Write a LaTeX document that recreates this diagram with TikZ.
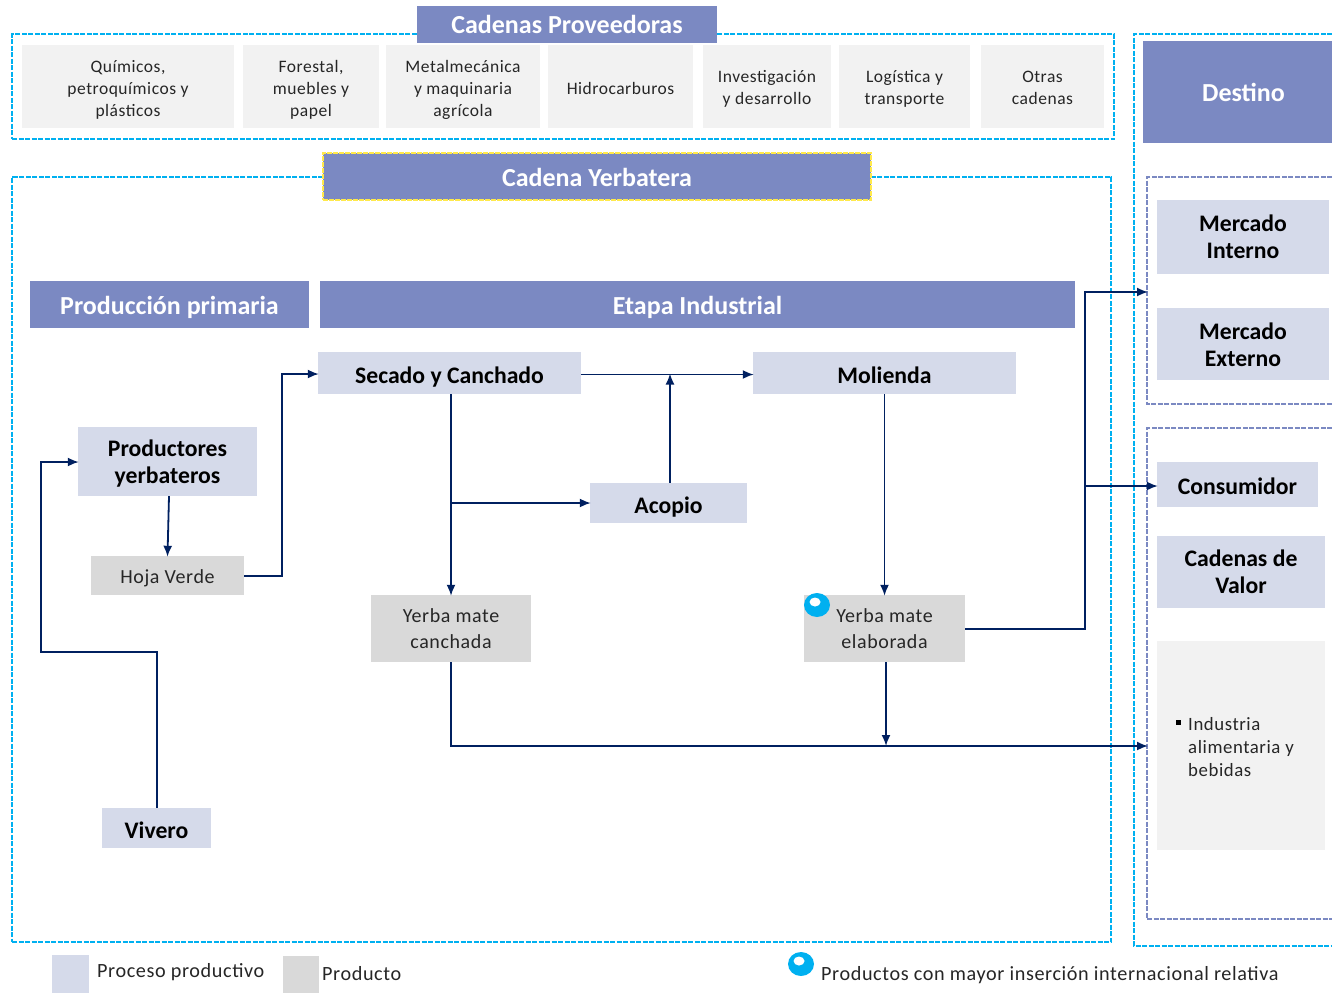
\documentclass[tikz,border=0pt]{standalone}
\usepackage{fontspec}
\setmainfont{Carlito}
\newfontfamily\wideface[LetterSpace=3]{Carlito}
\usetikzlibrary{arrows.meta,shapes.geometric}
\definecolor{headblue}{HTML}{7B89C2}
\definecolor{procblue}{HTML}{D5DAEA}
\definecolor{prodgrey}{HTML}{D9D9D9}
\definecolor{softgrey}{HTML}{F2F2F2}
\definecolor{framecyan}{HTML}{00B0F0}
\definecolor{framepurple}{HTML}{7B89C2}
\definecolor{framegold}{HTML}{FFE94A}
\definecolor{linknavy}{HTML}{002060}
\definecolor{inktext}{HTML}{262626}
\tikzset{
  head node/.style={rectangle,fill=headblue,text=white,inner sep=0pt,text height=19pt,text depth=0pt,font=\fontsize{26}{29}\selectfont\bfseries,align=center},
  proc node/.style={rectangle,fill=procblue,text=black,inner sep=0pt,text height=20pt,text depth=0pt,font=\fontsize{23.7}{27}\selectfont\bfseries,align=center},
  prod node/.style={rectangle,fill=prodgrey,text=inktext,inner sep=0pt,text height=16pt,text depth=0pt,font=\wideface\fontsize{20}{26}\selectfont,align=center},
  chain node/.style={rectangle,fill=softgrey,text=inktext,inner sep=0pt,text height=15pt,text depth=0pt,font=\wideface\fontsize{17.5}{22}\selectfont,align=center},
  note node/.style={anchor=west,text=inktext,inner sep=0pt,font=\wideface\fontsize{20.2}{23}\selectfont},
  cyan frame/.style={draw=framecyan,dashed,dash pattern=on 5pt off 1.5pt,line width=1.3pt},
  purple frame/.style={draw=framepurple,dashed,dash pattern=on 5pt off 1.5pt,line width=1.2pt},
  link/.style={draw=linknavy,line width=1.8pt,shorten >=-1pt,-{Latex[length=11pt,width=9pt]}},
  thick link/.style={draw=linknavy,line width=2.6pt},
  bubble/.style={ellipse,fill=framecyan,inner sep=0pt,minimum width=26,minimum height=24},
  glint/.style={ellipse,fill=white,inner sep=0pt,minimum width=11,minimum height=9}
}
\begin{document}
\begin{tikzpicture}[x=1pt,y=-1pt]
\useasboundingbox (0,0) rectangle (1332,993);
% frames
\node[cyan frame,minimum width=1102,minimum height=105,inner sep=0pt] (provframe) at (563,86.5) {};
\node[cyan frame,minimum width=1099,minimum height=765,inner sep=0pt] (yerbaframe) at (561.5,559.5) {};
\draw[cyan frame] (1332,34) -- (1134,34) -- (1134,946) -- (1332,946);
\draw[purple frame] (1332,177) -- (1147,177) -- (1147,404) -- (1332,404);
\draw[purple frame] (1332,428) -- (1147,428) -- (1147,919) -- (1332,919);
% titles
\node[head node,text height=17pt,minimum width=300,minimum height=37] (provtitle) at (567,24.5) {Cadenas Proveedoras};
\node[head node,minimum width=548,minimum height=47,draw=framegold,dash pattern=on 5pt off 1pt,line width=1.6pt] (yerbatitle) at (597,176.5) {Cadena Yerbatera};
\node[head node,minimum width=201,minimum height=102] (destino) at (1243.5,92) {Destino};
\node[head node,minimum width=279,minimum height=47] (primaria) at (169.5,304.5) {Producción primaria};
\node[head node,minimum width=755,minimum height=47] (industrial) at (697.5,304.5) {Etapa Industrial};
% cadenas proveedoras
\node[chain node,text height=60pt,minimum width=212,minimum height=83] (quimicos) at (128,86.5) {Químicos,\\petroquímicos y\\plásticos};
\node[chain node,text height=60pt,minimum width=136,minimum height=83] (forestal) at (311,86.5) {Forestal,\\muebles y\\papel};
\node[chain node,text height=60pt,minimum width=154,minimum height=83] (metal) at (463,86.5) {Metalmecánica\\y maquinaria\\agrícola};
\node[chain node,minimum width=145,minimum height=83] (hidro) at (620.5,86.5) {Hidrocarburos};
\node[chain node,text height=35pt,minimum width=128,minimum height=83] (investig) at (767,86.5) {Investigación\\y desarrollo};
\node[chain node,text height=35pt,minimum width=131,minimum height=83] (logistica) at (904.5,86.5) {Logística y\\transporte};
\node[chain node,text height=35pt,minimum width=123,minimum height=83] (otras) at (1042.5,86.5) {Otras\\cadenas};
% procesos
\node[proc node,text height=43pt,minimum width=179,minimum height=69] (productores) at (167.5,461.5) {Productores\\yerbateros};
\node[proc node,minimum width=263,minimum height=42] (secado) at (449.5,373) {Secado y Canchado};
\node[proc node,minimum width=263,minimum height=42] (molienda) at (884.5,373) {Molienda};
\node[proc node,minimum width=157,minimum height=40] (acopio) at (668.5,503) {Acopio};
\node[proc node,minimum width=109,minimum height=40] (vivero) at (156.5,828) {Vivero};
% productos
\node[prod node,minimum width=153,minimum height=39] (hoja) at (167.5,575.5) {Hoja Verde};
\node[prod node,text height=39pt,minimum width=160,minimum height=67] (canchada) at (451,628.5) {Yerba mate\\canchada};
\node[prod node,text height=39pt,minimum width=161,minimum height=67] (elaborada) at (884.5,628.5) {Yerba mate\\elaborada};
\node[bubble] (bubbleA) at (817,605) {};
\node[glint] (glintA) at (815,602) {};
% destino
\node[proc node,text height=43pt,minimum width=172,minimum height=74] (interno) at (1243,237) {Mercado\\Interno};
\node[proc node,text height=44pt,minimum width=172,minimum height=72] (externo) at (1243,344) {Mercado\\Externo};
\node[proc node,minimum width=161,minimum height=45] (consumidor) at (1237.5,484.5) {Consumidor};
\node[proc node,text height=42pt,minimum width=168,minimum height=72] (valor) at (1241,572) {Cadenas de\\Valor};
\node[chain node,minimum width=168,minimum height=209] (industria) at (1241,745.5) {};
\node[fill=black,inner sep=0pt,minimum size=5] (bullet) at (1178,722.5) {};
\node[note node,align=left,anchor=north west,font=\wideface\fontsize{18.8}{23}\selectfont] (industriatxt) at (1188,717) {Industria\\alimentaria y\\bebidas};
% leyenda
\node[rectangle,fill=procblue,minimum width=37,minimum height=38,inner sep=0pt] (legproc) at (70.5,974) {};
\node[rectangle,fill=prodgrey,minimum width=36,minimum height=37,inner sep=0pt] (legprod) at (301,974.5) {};
\node[note node] (txtproc) at (97,972) {Proceso productivo};
\node[note node] (txtprod) at (322,974) {Producto};
\node[bubble] (bubbleB) at (801,964) {};
\node[glint] (glintB) at (799,961) {};
\node[note node] (txtbubble) at (821,975) {Productos con mayor inserción internacional relativa};
% junctions
\coordinate (c1) at (282,576);
\coordinate (c2) at (282,374);
\coordinate (c3) at (157,652);
\coordinate (c4) at (41,652);
\coordinate (c5) at (41,462);
\coordinate (c6) at (451,503);
\coordinate (c7) at (670,374.5);
\coordinate (c8) at (1085,629);
\coordinate (c9) at (1085,292);
\coordinate (c10) at (1147,292);
\coordinate (c11) at (1085,486);
\coordinate (c12) at (451,746);
\coordinate (c13) at (1147,746);
\coordinate (c14) at (886,745);
% links
\draw[link] (secado.east |- c7) -- (molienda.west |- c7);
\draw[link] (acopio.north -| c7) -- (c7);
\draw[link] (secado.south -| c6) -- (canchada.north -| c6);
\draw[link] (c6) -- (acopio.west |- c6);
\draw[link] (productores.south -| 169,0) -- (hoja.north);
\draw[link] (hoja.east |- c1) -- (c1) -- (c2) -- (secado.west |- c2);
\draw[link] (vivero.north -| c3) -- (c3) -- (c4) -- (c5) -- (productores.west |- c5);
\draw[link] (molienda.south) -- (elaborada.north);
\draw[thick link] (elaborada.east |- c8) -- (c8) -- (c11);
\draw[link] (c11) -- (c9) -- (c10);
\draw[link] (c11) -- (consumidor.west |- c11);
\draw[link] (canchada.south -| c12) -- (c12) -- (c13);
\draw[link] (elaborada.south -| c14) -- (c14);
\end{tikzpicture}
\end{document}
